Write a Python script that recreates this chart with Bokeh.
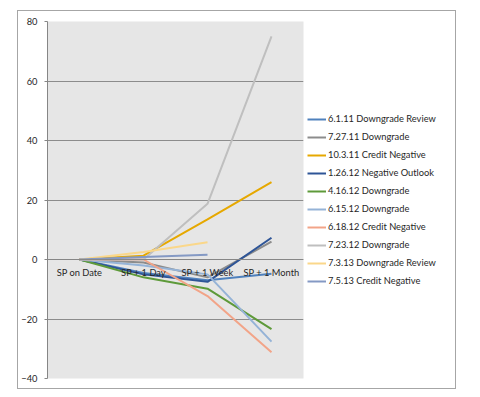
from bokeh.plotting import figure
from bokeh.models import Legend, LegendItem, FactorRange, SingleIntervalTicker
from bokeh.embed import file_html
from bokeh.resources import INLINE
import numpy as np

categories = ["SP on Date", "SP + 1 Day", "SP + 1 Week", "SP + 1 Month"]

series_names = [
    "6.1.11 Downgrade Review",
    "7.27.11 Downgrade",
    "10.3.11 Credit Negative",
    "1.26.12 Negative Outlook",
    "4.16.12 Downgrade",
    "6.15.12 Downgrade",
    "6.18.12 Credit Negative",
    "7.23.12 Downgrade",
    "7.3.13 Downgrade Review",
    "7.5.13 Credit Negative",
]

s_6_1_11 = [0, -4.5, -7.0, -4.8]
s_7_27_11 = [0, -1.0, -6.0, 6.0]
s_10_3_11 = [0, 1.3, 13.5, 26.0]
s_1_26_12 = [0, -5.0, -7.5, 7.3]
s_4_16_12 = [0, -6.0, -9.8, -23.4]
s_6_15_12 = [0, -2.0, -5.0, -27.6]
s_6_18_12 = [0, 0.0, -12.3, -31.2]
s_7_23_12 = [0, 0.0, 18.7, 75.0]
s_7_3_13 = [0, 2.5, 5.8, None]
s_7_5_13 = [0, 0.8, 1.6, None]

all_series = [s_6_1_11, s_7_27_11, s_10_3_11, s_1_26_12, s_4_16_12,
              s_6_15_12, s_6_18_12, s_7_23_12, s_7_3_13, s_7_5_13]

colors = ["#4F81BD", "#8C8C8C", "#E6A800", "#2E5597", "#5E9A3A",
          "#95B3D7", "#F2A488", "#BFBFBF", "#FAD78A", "#8499C4"]

FONT = "Lato"
TEXT = "#262626"
FS = "9.3px"

p = figure(
    x_range=FactorRange(*categories, range_padding=0),
    y_range=(-40, 80),
    frame_width=256, frame_height=357,
    min_border_left=28, min_border_top=10, min_border_bottom=10, min_border_right=155,
    output_backend="svg", toolbar_location=None,
    background_fill_color="#E6E6E6", border_fill_color="white",
)
p.outline_line_color = None
p.styles = {"border": "1px solid #A6A6A6", "max-width": "439px", "overflow": "hidden"}
p.margin = (10, 0, 0, 17)

# y axis
p.yaxis.ticker = SingleIntervalTicker(interval=20)
p.yaxis.minor_tick_line_color = None
p.yaxis.major_tick_in = 0
p.yaxis.major_tick_out = 3
p.yaxis.major_tick_line_color = "#868686"
p.yaxis.axis_line_color = "#868686"
p.yaxis.major_label_standoff = 6
p.yaxis.major_label_text_font = FONT
p.yaxis.major_label_text_font_size = FS
p.yaxis.major_label_text_color = TEXT

p.ygrid.ticker = SingleIntervalTicker(interval=20)
p.ygrid.grid_line_color = "#8C8C8C"
p.xgrid.grid_line_color = None

# x axis crossing at zero
p.xaxis.fixed_location = 0
p.xaxis.axis_line_color = "#868686"
p.xaxis.major_tick_line_color = None
p.xaxis.major_tick_in = 0
p.xaxis.major_tick_out = 0
p.xaxis.minor_tick_line_color = None
p.xaxis.major_label_standoff = 7
p.xaxis.major_label_text_font = FONT
p.xaxis.major_label_text_font_size = FS
p.xaxis.major_label_text_color = TEXT

items = []
for name, vals, col in zip(series_names, all_series, colors):
    ys = [np.nan if v is None else v for v in vals]
    r = p.line(categories, ys, line_color=col, line_width=2)
    items.append(LegendItem(label=name, renderers=[r]))

legend = Legend(items=items, location="center_left")
legend.border_line_color = None
legend.background_fill_alpha = 0
legend.margin = 4
legend.padding = 8
legend.glyph_width = 19
legend.glyph_height = 14
legend.label_height = 14
legend.spacing = 4
legend.label_standoff = 2
legend.label_text_font = FONT
legend.label_text_font_size = FS
legend.label_text_color = TEXT
p.add_layout(legend, "right")

open("out.html", "w").write(file_html(p, INLINE))
